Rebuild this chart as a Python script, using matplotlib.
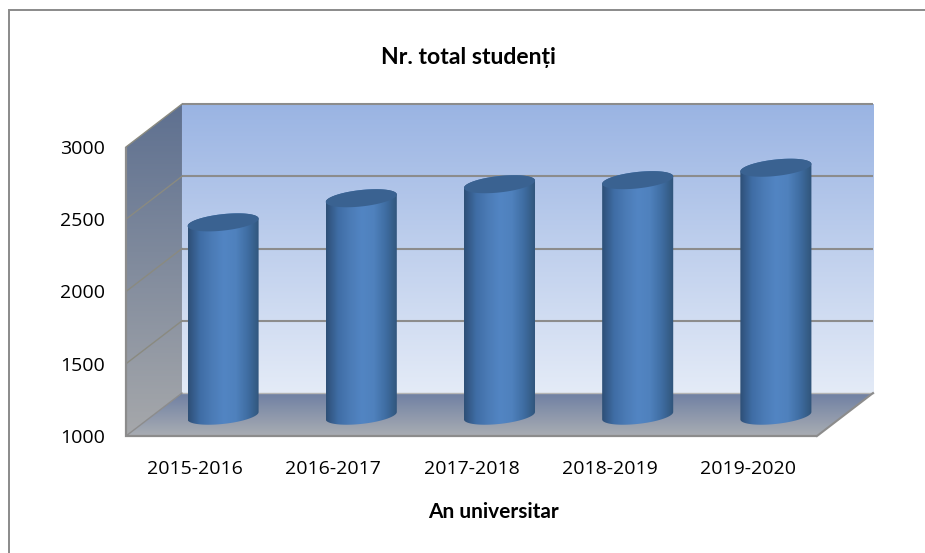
import numpy as np
import matplotlib
matplotlib.use('Agg')
import matplotlib.pyplot as plt
from matplotlib.colors import LinearSegmentedColormap
from matplotlib.patches import Rectangle
from matplotlib.path import Path

# data
years = ['2015-2016', '2016-2017', '2017-2018', '2018-2019', '2019-2020']
students = [2330, 2497, 2594, 2622, 2708]
yticks = [1000, 1500, 2000, 2500, 3000]

# depth of the fake 3d box, in data units
dx = 0.405
dy = 297
grey = '#8c8c8c'

plt.rcParams['font.family'] = ['Open Sans', 'DejaVu Sans']

fig = plt.figure(figsize=(9.25, 5.53), dpi=100)
ax = fig.add_axes([126 / 925, (553 - 436) / 553, 691 / 925, 289 / 553])


def gradient(x0, x1, y0, y1, colors, clip=None, horizontal=False, z=1):
    cmap = LinearSegmentedColormap.from_list('g', colors)
    g = np.linspace(0, 1, 256)
    g = g.reshape(1, -1) if horizontal else g.reshape(-1, 1)
    im = ax.imshow(g, cmap=cmap, extent=(x0, x1, y0, y1), aspect='auto',
                   zorder=z, interpolation='bilinear')
    im.set_clip_box(fig.bbox)
    if clip is not None:
        im.set_clip_path(Path(clip), ax.transData)
    return im


# walls and floor
gradient(dx, 5 + dx, 1000 + dy, 3000 + dy, ['#9ab4e3', '#e4ebf7'])
gradient(0, dx, 1000, 3000 + dy, ['#5e7090', '#a6a8ab'],
         clip=[(0, 1000), (dx, 1000 + dy), (dx, 3000 + dy), (0, 3000), (0, 1000)])
gradient(0, 5 + dx, 1000, 1000 + dy, ['#6f80a3', '#a9adb3'],
         clip=[(0, 1000), (5, 1000), (5 + dx, 1000 + dy), (dx, 1000 + dy), (0, 1000)])

# grid lines, back wall and side wall
for v in yticks[1:]:
    ax.plot([dx, 5 + dx], [v + dy, v + dy], color=grey, lw=1.5, clip_on=False, zorder=2,
            solid_capstyle='butt')
    ax.plot([0, dx], [v, v + dy], color='#8a8a80', lw=1.0, clip_on=False, zorder=2)
ax.plot([dx, 5 + dx], [1000 + dy, 1000 + dy], color='#b4b4b4', lw=1, clip_on=False, zorder=2)
ax.plot([0, dx], [1000, 1000 + dy], color=grey, lw=1, clip_on=False, zorder=2)
ax.plot([5, 5 + dx], [1000, 1000 + dy], color=grey, lw=1.5, clip_on=False, zorder=2)
ax.plot([0, 0, 5], [3000, 1000, 1000], color=grey, lw=1.6, clip_on=False, zorder=6,
        solid_capstyle='butt', solid_joinstyle='miter')

# cylinders
a = 0.257
b = 57
k = 25.6
t_low = np.linspace(np.pi, 2 * np.pi, 60)
t_up = np.linspace(0, np.pi, 60)
t_all = np.linspace(0, 2 * np.pi, 120)
bar_colors = ['#2e4f76', '#3f6da5', '#4b7bb6', '#5285c3', '#4f81bd', '#3f6da2', '#305479']
for i, v in enumerate(students):
    cx = i + 0.5 + dx / 2
    base = 1000 + dy / 2 - 8
    top = v + dy / 2
    low_x = cx + a * np.cos(t_low)
    low_y = base + b * np.sin(t_low) + k * np.cos(t_low)
    up_x = cx + a * np.cos(t_up)
    up_y = top + b * np.sin(t_up) + k * np.cos(t_up)
    body = list(zip(low_x, low_y)) + list(zip(up_x, up_y)) + [(low_x[0], low_y[0])]
    gradient(cx - a, cx + a, base - b - k, top + b + k, bar_colors, clip=body,
             horizontal=True, z=3 + i * 0.01)
    ax.fill(cx + a * np.cos(t_all), top + b * np.sin(t_all) + k * np.cos(t_all),
            color='#3a6291', lw=0, clip_on=False, zorder=4)

ax.set_xlim(0, 5)
ax.set_ylim(1000, 3000)
for s in ax.spines.values():
    s.set_visible(False)
ax.patch.set_visible(False)
ax.set_xticks(np.arange(5) + 0.5, years)
ax.set_yticks(yticks)
ax.tick_params(length=0, labelsize=14, colors='black')
ax.tick_params(axis='x', pad=17)
ax.tick_params(axis='y', pad=15)

narrow = ['Liberation Sans Narrow', 'Lato', 'DejaVu Sans']
fig.text(468 / 925, 1 - 58 / 553, 'Nr. total studenți', ha='center', va='center',
         fontsize=16.6, fontweight='bold', family=narrow)
fig.text(493 / 925, 1 - 512 / 553, 'An universitar', ha='center', va='center',
         fontsize=15, fontweight='bold', family=narrow)

# chart frame
fig.add_artist(Rectangle((9 / 925, -0.01), 1.0, 1 - 10 / 553 + 0.01, fill=False,
                         edgecolor='#8a8a8a', lw=1.4, transform=fig.transFigure))

fig.savefig('out.png', dpi=100)
